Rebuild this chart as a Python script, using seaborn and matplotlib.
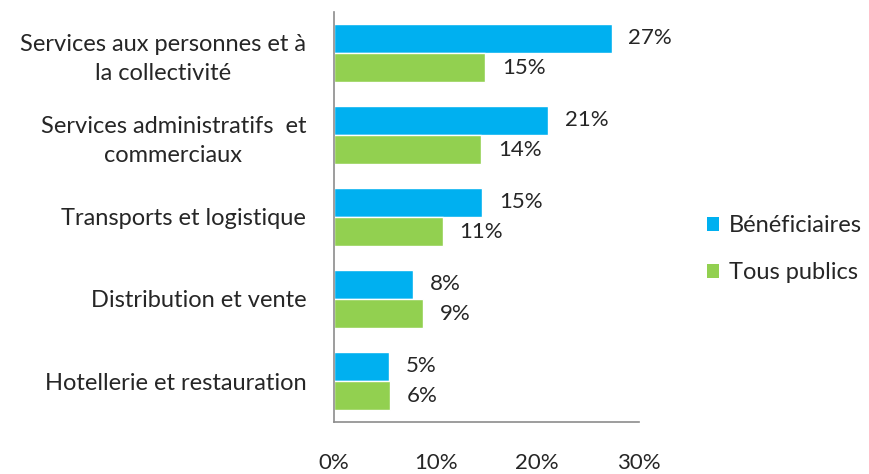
import pandas as pd
import matplotlib
matplotlib.use("Agg")
import matplotlib.pyplot as plt
from matplotlib.patches import Patch
import seaborn as sns

sns.set_theme(style="white")
plt.rcParams['font.family'] = ['Lato', 'DejaVu Sans']

# data
categories = [
    "Services aux personnes et à\nla collectivité",
    "Services administratifs  et\ncommerciaux",
    "Transports et logistique",
    "Distribution et vente",
    "Hotellerie et restauration",
]
beneficiaires = [27.3, 21.1, 14.6, 7.8, 5.4]
tous_publics = [14.9, 14.5, 10.7, 8.8, 5.5]
series = ["Bénéficiaires", "Tous publics"]
colors = ["#00B0F0", "#92D050"]
xticks = [0, 10, 20, 30]

df = pd.DataFrame({
    "categorie": categories * 2,
    "valeur": beneficiaires + tous_publics,
    "serie": [series[0]] * len(categories) + [series[1]] * len(categories),
})

text_color = "#262626"
fig = plt.figure(figsize=(8.69, 4.74), dpi=100)
ax = fig.add_axes([0.3843, 0.1097, 0.3510, 0.8650])

sns.barplot(data=df, x="valeur", y="categorie", hue="serie", orient="h",
            palette=colors, width=0.71, gap=0, ax=ax, legend=False,
            saturation=1, errorbar=None)

for cont in ax.containers:
    ax.bar_label(cont, fmt=lambda v: f"{v:.0f}%", padding=12,
                 fontsize=16, color=text_color)

ax.set_xlim(0, 30)
ax.set_ylim(4.5, -0.5)
ax.set_xticks(xticks)
ax.set_xticklabels([f"{t}%" for t in xticks])
ax.set_xlabel("")
ax.set_ylabel("")
ax.tick_params(axis="x", length=0, pad=22, labelsize=16, labelcolor=text_color)
ax.tick_params(axis="y", length=0, pad=20, labelsize=17, labelcolor=text_color)
for lab in ax.get_yticklabels():
    lab.set_multialignment("center")
    lab.set_linespacing(1.5)

for side in ["top", "right"]:
    ax.spines[side].set_visible(False)
for side in ["left", "bottom"]:
    ax.spines[side].set_color("#8c8c8c")
    ax.spines[side].set_linewidth(1.2)

handles = [Patch(facecolor=c, edgecolor="none", label=s) for c, s in zip(colors, series)]
fig.legend(handles=handles, loc="center left", bbox_to_anchor=(0.789, 0.474),
           frameon=False, handlelength=0.5, handleheight=0.5, handletextpad=0.45,
           labelspacing=1.1, fontsize=17, labelcolor=text_color)

fig.savefig("out.png", dpi=100)
